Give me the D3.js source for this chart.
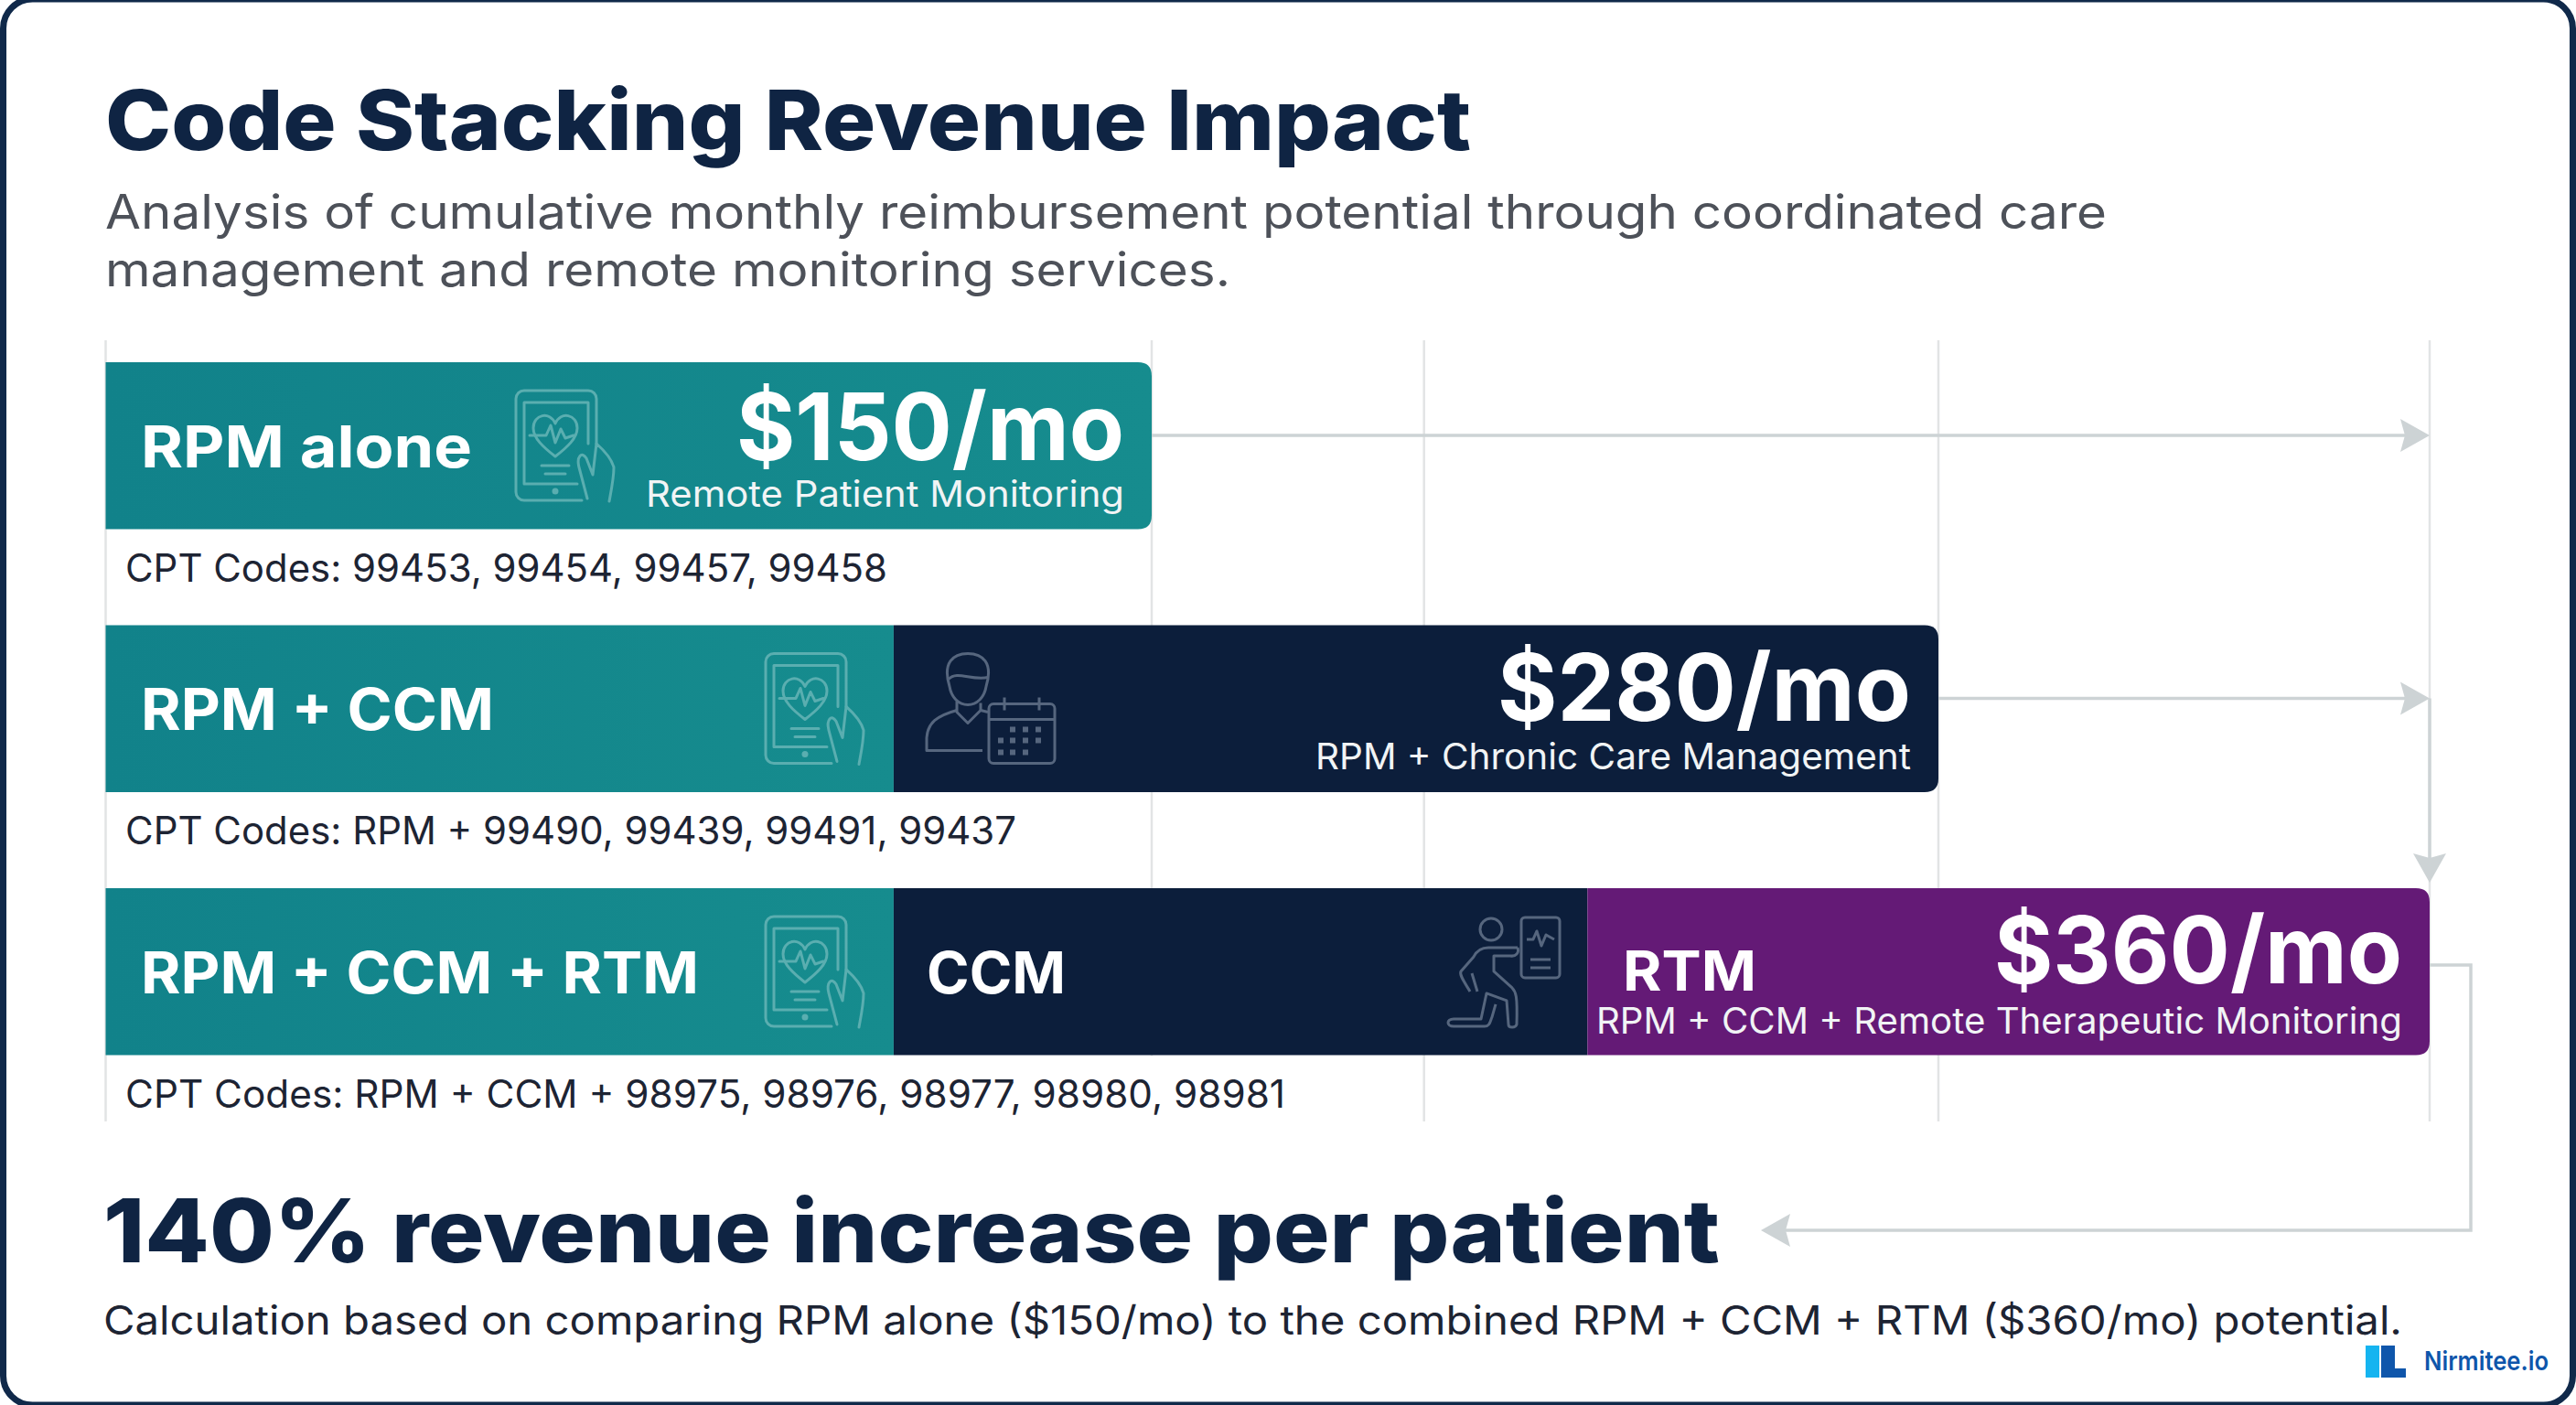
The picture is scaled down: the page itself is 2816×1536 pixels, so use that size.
<!DOCTYPE html>
<html>
<head>
<meta charset="utf-8">
<script src="https://cdn.jsdelivr.net/npm/d3@7"></script>
<style>
	html, body { margin: 0; padding: 0; background: #fff; }
	svg { display: block; }
	text { font-family: Inter, "Open Sans", sans-serif; }
</style>
</head>
<body>
<svg id="chart" width="2816" height="1536"></svg>
<script>
// chart values
var tiers = ["RPM alone", "RPM + CCM", "RPM + CCM + RTM"];
var totals = [150, 280, 360];
var totalLabels = ["$150/mo", "$280/mo", "$360/mo"];
var totalNotes = ["Remote Patient Monitoring", "RPM + Chronic Care Management", "RPM + CCM + Remote Therapeutic Monitoring"];
var cptCodes = [
	"CPT Codes: 99453, 99454, 99457, 99458",
	"CPT Codes: RPM + 99490, 99439, 99491, 99437",
	"CPT Codes: RPM + CCM + 98975, 98976, 98977, 98980, 98981"
];
var rpmEnds = [150, 113, 113];
var ccmEnds = [null, 280, 222];
var rtmEnds = [null, null, 360];
var gridValues = [0, 150, 195, 280, 360];

var titleText = "Code Stacking Revenue Impact";
var subtitleLines = [
	"Analysis of cumulative monthly reimbursement potential through coordinated care",
	"management and remote monitoring services."
];
var headline = "140% revenue increase per patient";
var footnote = "Calculation based on comparing RPM alone ($150/mo) to the combined RPM + CCM + RTM ($360/mo) potential.";

var NAVY = "#0c1e3b", INK = "#0f2443", FRAME = "#10294a", PURPLE = "#641a76", GRID = "#e2e4e5", ARROW = "#cdd3d5";

var svg = d3.select("#chart");

var tealGrad = svg.append("defs").append("linearGradient").attr("id", "teal");
tealGrad.append("stop").attr("offset", "0%").attr("stop-color", "#11828a");
tealGrad.append("stop").attr("offset", "100%").attr("stop-color", "#168c8e");

// the bars are not to one linear scale in the picture, the gridlines pin it
var x = d3.scaleLinear().domain([0, 150, 280, 360]).range([115.5, 1259, 2119, 2656]);
var y = d3.scaleBand().domain(tiers).range([396, 1153.5]).paddingInner(0.365).paddingOuter(0);

// text stretched to the width it has in the picture, the fonts differ
function fitText(parent, str, x0, baseline, width, size, weight, fill) {
	return parent.append("text")
		.attr("x", x0)
		.attr("y", baseline)
		.attr("font-size", size)
		.attr("font-weight", weight)
		.attr("fill", fill)
		.attr("textLength", width)
		.attr("lengthAdjust", "spacingAndGlyphs")
		.text(str);
}

function segmentPath(x0, x1, top, h, rounded) {
	var r = rounded ? 15 : 0;
	return "M" + x0 + "," + top + "H" + (x1 - r) + "Q" + x1 + "," + top + " " + x1 + "," + (top + r)
		+ "V" + (top + h - r) + "Q" + x1 + "," + (top + h) + " " + (x1 - r) + "," + (top + h) + "H" + x0 + "Z";
}

// frame
svg.append("rect")
	.attr("x", 3.5).attr("y", -1)
	.attr("width", 2809).attr("height", 1537)
	.attr("rx", 32)
	.attr("fill", "#fff")
	.attr("stroke", FRAME)
	.attr("stroke-width", 7);

// grid
svg.append("g").selectAll("line")
	.data(gridValues)
	.enter()
	.append("line")
		.attr("x1", function (d) { return x(d); })
		.attr("x2", function (d) { return x(d); })
		.attr("y1", 372)
		.attr("y2", 1226)
		.attr("stroke", GRID)
		.attr("stroke-width", 2.5);

// flow arrows
function arrowHead(tipX, tipY, dir) {
	var len = 32, half = 18;
	var pts;
	if (dir == "right") pts = [[tipX, tipY], [tipX - len, tipY - half], [tipX - len + 5, tipY], [tipX - len, tipY + half]];
	if (dir == "left") pts = [[tipX, tipY], [tipX + len, tipY - half], [tipX + len - 5, tipY], [tipX + len, tipY + half]];
	if (dir == "down") pts = [[tipX, tipY], [tipX - half, tipY - len], [tipX, tipY - len + 5], [tipX + half, tipY - len]];
	svg.append("path").attr("d", d3.line()(pts) + "Z").attr("fill", ARROW);
}
var rowMidOffset = 80;
[0, 1].forEach(function (i) {
	var my = y(tiers[i]) + rowMidOffset;
	svg.append("line")
		.attr("x1", x(totals[i])).attr("x2", x(360) - 20)
		.attr("y1", my).attr("y2", my)
		.attr("stroke", ARROW).attr("stroke-width", 3.5);
	arrowHead(x(360), my, "right");
});
svg.append("line")
	.attr("x1", x(360)).attr("x2", x(360))
	.attr("y1", y(tiers[1]) + rowMidOffset).attr("y2", 950)
	.attr("stroke", ARROW).attr("stroke-width", 3.5);
arrowHead(x(360), 965, "down");

svg.append("path")
	.attr("d", "M" + x(360) + ",1055H2701V1345H1945")
	.attr("fill", "none")
	.attr("stroke", ARROW)
	.attr("stroke-width", 3.5);
arrowHead(1925, 1345, "left");

// white behind the code line, the gridlines stop at it
var cptWidths = [833, 974, 1268];
svg.append("rect")
	.attr("x", 125).attr("y", y(tiers[2]) + y.bandwidth() + 1)
	.attr("width", cptWidths[2] + 30).attr("height", 74)
	.attr("fill", "#fff");

// bars
var bars = svg.append("g").selectAll("g")
	.data(tiers)
	.enter()
	.append("g")
		.attr("class", "tier");

bars.append("path")
	.attr("fill", "url(#teal)")
	.attr("d", function (d, i) {
		return segmentPath(x(0), x(rpmEnds[i]), y(d), y.bandwidth(), i == 0);
	});

bars.filter(function (d, i) { return ccmEnds[i] != null; })
	.append("path")
	.attr("fill", NAVY)
	.attr("d", function (d) {
		var i = tiers.indexOf(d);
		return segmentPath(x(rpmEnds[i]), x(ccmEnds[i]), y(d), y.bandwidth(), i == 1);
	});

bars.filter(function (d, i) { return rtmEnds[i] != null; })
	.append("path")
	.attr("fill", PURPLE)
	.attr("d", function (d) {
		var i = tiers.indexOf(d);
		return segmentPath(x(ccmEnds[i]), x(rtmEnds[i]), y(d), y.bandwidth(), true);
	});

// icons, drawn in a local box
function tabletIcon(tx, ty) {
	var g = svg.append("g")
		.attr("transform", "translate(" + tx + "," + ty + ")")
		.attr("fill", "none")
		.attr("stroke", "#5aaeb0")
		.attr("stroke-width", 3)
		.attr("stroke-linecap", "round")
		.attr("stroke-linejoin", "round");
	g.append("path").attr("d", "M88,58V9C88,4 84,0 79,0H9C4,0 0,4 0,9V111C0,116 4,120 9,120H72");
	g.append("path").attr("d", "M79,58V13H9V102H67");
	g.append("path").attr("d", "M43,72C30,62 19,52 19,41C19,26 37,22 43,36C49,22 67,26 67,41C67,52 56,62 43,72Z");
	g.append("path").attr("d", "M15,49H33L38,38L43,57L49,42L54,52L63,49");
	g.append("path").attr("d", "M28,82H58M32,91H54");
	g.append("circle").attr("cx", 43).attr("cy", 110).attr("r", 3.5).attr("fill", "#5aaeb0").attr("stroke", "none");
	g.append("path").attr("d", "M78,118L69,84C66,72 72,66 77,74L84,92L88,58C97,66 105,76 107,84C107,96 104,110 102,121");
}

function personCalendarIcon(tx, ty) {
	var g = svg.append("g")
		.attr("transform", "translate(" + tx + "," + ty + ")")
		.attr("fill", "none")
		.attr("stroke", "#56667e")
		.attr("stroke-width", 3)
		.attr("stroke-linejoin", "round");
	g.append("path").attr("d", "M26,36C18,10 30,0 46,0C62,0 74,10 66,36C64,48 56,56 46,56C36,56 28,48 26,36Z");
	g.append("path").attr("d", "M25,28C34,18 50,30 68,26");
	g.append("path").attr("d", "M34,52V64L46,76L60,62V54");
	g.append("path").attr("d", "M34,62C12,68 2,76 1,92V106H62M60,62L68,64");
	g.append("rect").attr("x", 69).attr("y", 55).attr("width", 72).attr("height", 65).attr("rx", 5);
	g.append("path").attr("d", "M69,72H141M86,48V62M124,48V62");
	var dots = g.append("g").attr("stroke", "none").attr("fill", "#56667e");
	[[95, 83], [109, 83], [123, 83], [82, 95], [95, 95], [109, 95], [123, 95], [82, 108], [95, 108], [109, 108]].forEach(function (p) {
		dots.append("rect").attr("x", p[0] - 3).attr("y", p[1] - 3).attr("width", 6).attr("height", 6);
	});
}

function therapyIcon(tx, ty) {
	var g = svg.append("g")
		.attr("transform", "translate(" + tx + "," + ty + ")")
		.attr("fill", "none")
		.attr("stroke", "#56667e")
		.attr("stroke-width", 3)
		.attr("stroke-linejoin", "round");
	g.append("circle").attr("cx", 49).attr("cy", 14).attr("r", 12);
	g.append("rect").attr("x", 82).attr("y", 1).attr("width", 42).attr("height", 66).attr("rx", 4);
	g.append("path").attr("d", "M88,25L95,25L99,16L104,32L109,20L118,25");
	g.append("path").attr("d", "M92,47H114M92,56H114");
	g.append("path").attr("d", "M78,34C80,40 76,44 70,43H52V60L72,78C76,82 78,86 77,118C76,122 68,122 68,118L66,92L44,84L38,112H8C0,112 0,120 8,120H42C48,120 48,114 50,110L54,96");
	g.append("path").attr("d", "M46,34C38,34 33,38 30,44L16,60C14,64 20,72 26,82");
	g.append("path").attr("d", "M78,34H46M28,62L34,82");
}

tiers.forEach(function (t) {
	var top = y(t);
	var i = tiers.indexOf(t);
	if (i == 0) tabletIcon(564, top + 31);
	else tabletIcon(837, top + 31);
	if (i == 1) personCalendarIcon(1012, top + 31);
	if (i == 2) therapyIcon(1581, top + 31);
});

// bar text
var labelWidths = [362, 386, 610];
var valueWidths = [424, 452, 446];
var noteWidths = [523, 651, 881];
var rowBaselines = [115, 114.5, 115];
var valueBaselines = [107, 104.5, 104];
var noteBaselines = [158, 157.5, 159];

tiers.forEach(function (t, i) {
	var top = y(t);
	var right = x(totals[i]) - 30;
	fitText(svg, t, 154, top + rowBaselines[i], labelWidths[i], 63, 700, "#fff");
	fitText(svg, totalLabels[i], right - valueWidths[i], top + valueBaselines[i], valueWidths[i], 102, 700, "#fff");
	fitText(svg, totalNotes[i], right - noteWidths[i], top + noteBaselines[i], noteWidths[i], 39, 400, "#f1f4f5");
	fitText(svg, cptCodes[i], 137, top + 240, cptWidths[i], 42, 400, "#1d2433");
});

var top3 = y(tiers[2]);
fitText(svg, "CCM", 1013, top3 + 115, 152, 63, 700, "#fff");
fitText(svg, "RTM", 1774, top3 + 112, 146, 61, 700, "#fff");

// heading
fitText(svg, titleText, 115, 164, 1493, 91, 800, INK);
fitText(svg, subtitleLines[0], 115, 250, 2188, 52, 400, "#4d5159");
fitText(svg, subtitleLines[1], 115, 313, 1230, 52, 400, "#4d5159");

// footer
fitText(svg, headline, 113, 1380, 1767, 96, 800, INK);
fitText(svg, footnote, 113, 1459, 2513, 44, 400, "#1d2433");

// logo
var logo = svg.append("g");
logo.append("rect").attr("x", 2586).attr("y", 1471).attr("width", 15).attr("height", 35).attr("fill", "#15b4f0");
logo.append("path").attr("d", "M2603,1471H2618V1496H2630V1506H2603Z").attr("fill", "#0f56ab");
fitText(svg, "Nirmitee.io", 2650, 1498, 136, 29, 600, "#0f56ab");
</script>
</body>
</html>
